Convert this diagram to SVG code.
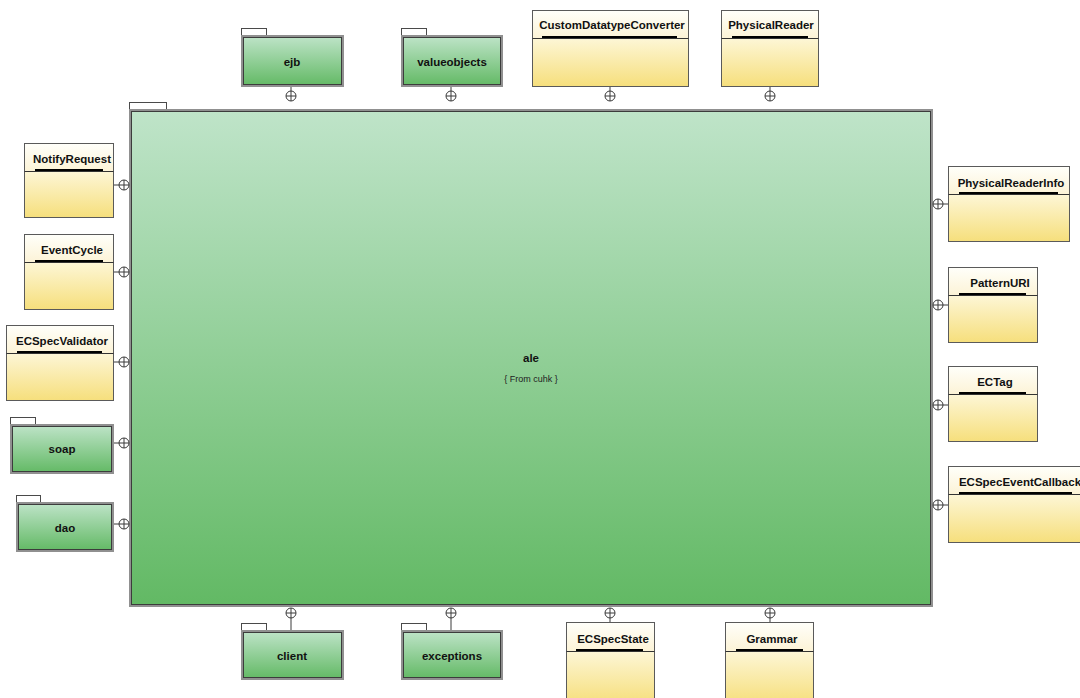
<svg xmlns="http://www.w3.org/2000/svg" width="1080" height="698" viewBox="0 0 1080 698">
  <defs>
    <linearGradient id="pkgFill" x1="0" y1="0" x2="0" y2="1">
      <stop offset="0" stop-color="#bfe4c9"/>
      <stop offset="1" stop-color="#62b964"/>
    </linearGradient>
    <linearGradient id="hdrFill" x1="0" y1="0" x2="0" y2="1">
      <stop offset="0" stop-color="#fffffa"/>
      <stop offset="1" stop-color="#fcf3d6"/>
    </linearGradient>
    <linearGradient id="bodyFill" x1="0" y1="0" x2="0" y2="1">
      <stop offset="0" stop-color="#fdf6d6"/>
      <stop offset="1" stop-color="#f6df7c"/>
    </linearGradient>
    <g id="port">
      <circle r="5" fill="#ffffff" stroke="#3a3a3a" stroke-width="1"/>
      <path d="M-5 0H5M0 -5V5" stroke="#3a3a3a" stroke-width="1"/>
    </g>
  </defs>
  <style>
    .tab { fill: #ffffff; stroke: #4a4a4a; stroke-width: 1; }
    .pkg { fill: url(#pkgFill); stroke: #909090; stroke-width: 2; }
    .pkgIn { fill: none; stroke: #3c3c3c; stroke-width: 1; }
    .hdr { fill: url(#hdrFill); }
    .cbody { fill: url(#bodyFill); }
    .frame { fill: none; stroke: #5a5a5a; stroke-width: 1; }
    .div { stroke: #333333; stroke-width: 1; }
    .ul { stroke: #000000; stroke-width: 2; }
    .lbl { font-family: "Liberation Sans", Arial, sans-serif; font-size: 11.5px; font-weight: bold; fill: #111111; text-anchor: middle; }
    .sub { font-family: "Liberation Sans", Arial, sans-serif; font-size: 9px; fill: #222222; text-anchor: middle; }
    .wire { stroke: #3a3a3a; stroke-width: 1; fill: none; }
  </style>

  <rect width="1080" height="698" fill="#ffffff"/>

  <!-- container package -->
  <g id="ale">
    <rect class="tab" x="129.5" y="102.5" width="37" height="7"/>
    <rect class="pkg" x="130" y="110" width="802" height="496"/>
    <rect class="pkgIn" x="131.5" y="111.5" width="799" height="493"/>
    <text class="lbl" x="531" y="362">ale</text>
    <text class="sub" x="531" y="382">{ From cuhk }</text>
  </g>

  <!-- connectors -->
  <g id="connectors">
    <path class="wire" d="M291 87V96M451 87V96M610 87V96M770 87V96"/>
    <path class="wire" d="M114 185H124M114 272H124M114 362H124M114 443H124M114 524H124"/>
    <path class="wire" d="M938 204H948M938 305H948M938 405H948M938 505H948"/>
    <path class="wire" d="M291 613V631M451 613V631M610 613V623M770 613V623"/>
    <use href="#port" x="291" y="96"/>
    <use href="#port" x="451" y="96"/>
    <use href="#port" x="610" y="96"/>
    <use href="#port" x="770" y="96"/>
    <use href="#port" x="124" y="185"/>
    <use href="#port" x="124" y="272"/>
    <use href="#port" x="124" y="362"/>
    <use href="#port" x="124" y="443"/>
    <use href="#port" x="124" y="524"/>
    <use href="#port" x="938" y="204"/>
    <use href="#port" x="938" y="305"/>
    <use href="#port" x="938" y="405"/>
    <use href="#port" x="938" y="505"/>
    <use href="#port" x="291" y="613"/>
    <use href="#port" x="451" y="613"/>
    <use href="#port" x="610" y="613"/>
    <use href="#port" x="770" y="613"/>
  </g>

  <!-- sub-packages -->
  <g id="ejb">
    <rect class="tab" x="241.5" y="28.5" width="25" height="7"/>
    <rect class="pkg" x="242" y="36" width="101" height="50"/>
    <rect class="pkgIn" x="243.5" y="37.5" width="98" height="47"/>
    <text class="lbl" x="292" y="66">ejb</text>
  </g>
  <g id="valueobjects">
    <rect class="tab" x="401.5" y="28.5" width="25" height="7"/>
    <rect class="pkg" x="402" y="36" width="100" height="50"/>
    <rect class="pkgIn" x="403.5" y="37.5" width="97" height="47"/>
    <text class="lbl" x="452" y="66">valueobjects</text>
  </g>
  <g id="soap">
    <rect class="tab" x="10.5" y="417.5" width="25" height="7"/>
    <rect class="pkg" x="11" y="425" width="102" height="48"/>
    <rect class="pkgIn" x="12.5" y="426.5" width="99" height="45"/>
    <text class="lbl" x="62" y="453">soap</text>
  </g>
  <g id="dao">
    <rect class="tab" x="16.5" y="495.5" width="24" height="7"/>
    <rect class="pkg" x="17" y="503" width="96" height="48"/>
    <rect class="pkgIn" x="18.5" y="504.5" width="93" height="45"/>
    <text class="lbl" x="65" y="532">dao</text>
  </g>
  <g id="client">
    <rect class="tab" x="241.5" y="623.5" width="25" height="7"/>
    <rect class="pkg" x="242" y="631" width="101" height="48"/>
    <rect class="pkgIn" x="243.5" y="632.5" width="98" height="45"/>
    <text class="lbl" x="292" y="660">client</text>
  </g>
  <g id="exceptions">
    <rect class="tab" x="401.5" y="623.5" width="25" height="7"/>
    <rect class="pkg" x="402" y="631" width="100" height="48"/>
    <rect class="pkgIn" x="403.5" y="632.5" width="97" height="45"/>
    <text class="lbl" x="452" y="660">exceptions</text>
  </g>

  <!-- classes -->
  <g id="CustomDatatypeConverter">
    <rect class="hdr" x="532.5" y="10.5" width="156" height="28"/>
    <rect class="cbody" x="532.5" y="38.5" width="156" height="48"/>
    <rect class="frame" x="532.5" y="10.5" width="156" height="76"/>
    <line class="div" x1="532.5" y1="38.5" x2="688.5" y2="38.5"/>
    <line class="ul" x1="542" y1="37" x2="677" y2="37"/>
    <text class="lbl" x="612" y="29">CustomDatatypeConverter</text>
  </g>
  <g id="PhysicalReader">
    <rect class="hdr" x="721.5" y="10.5" width="97" height="28"/>
    <rect class="cbody" x="721.5" y="38.5" width="97" height="48"/>
    <rect class="frame" x="721.5" y="10.5" width="97" height="76"/>
    <line class="div" x1="721.5" y1="38.5" x2="818.5" y2="38.5"/>
    <line class="ul" x1="732" y1="37" x2="808" y2="37"/>
    <text class="lbl" x="771" y="29">PhysicalReader</text>
  </g>
  <g id="NotifyRequest">
    <rect class="hdr" x="24.5" y="143.5" width="89" height="28"/>
    <rect class="cbody" x="24.5" y="171.5" width="89" height="46"/>
    <rect class="frame" x="24.5" y="143.5" width="89" height="74"/>
    <line class="div" x1="24.5" y1="171.5" x2="113.5" y2="171.5"/>
    <line class="ul" x1="35" y1="170" x2="103" y2="170"/>
    <text class="lbl" x="72" y="163">NotifyRequest</text>
  </g>
  <g id="EventCycle">
    <rect class="hdr" x="24.5" y="234.5" width="89" height="28"/>
    <rect class="cbody" x="24.5" y="262.5" width="89" height="47"/>
    <rect class="frame" x="24.5" y="234.5" width="89" height="75"/>
    <line class="div" x1="24.5" y1="262.5" x2="113.5" y2="262.5"/>
    <line class="ul" x1="35" y1="261" x2="103" y2="261"/>
    <text class="lbl" x="72" y="254">EventCycle</text>
  </g>
  <g id="ECSpecValidator">
    <rect class="hdr" x="6.5" y="325.5" width="107" height="28"/>
    <rect class="cbody" x="6.5" y="353.5" width="107" height="47"/>
    <rect class="frame" x="6.5" y="325.5" width="107" height="75"/>
    <line class="div" x1="6.5" y1="353.5" x2="113.5" y2="353.5"/>
    <line class="ul" x1="17" y1="352" x2="102" y2="352"/>
    <text class="lbl" x="62" y="345">ECSpecValidator</text>
  </g>
  <g id="PhysicalReaderInfo">
    <rect class="hdr" x="948.5" y="166.5" width="121" height="28"/>
    <rect class="cbody" x="948.5" y="194.5" width="121" height="47"/>
    <rect class="frame" x="948.5" y="166.5" width="121" height="75"/>
    <line class="div" x1="948.5" y1="194.5" x2="1069.5" y2="194.5"/>
    <line class="ul" x1="959" y1="193" x2="1058" y2="193"/>
    <text class="lbl" x="1011" y="187">PhysicalReaderInfo</text>
  </g>
  <g id="PatternURI">
    <rect class="hdr" x="948.5" y="267.5" width="89" height="28"/>
    <rect class="cbody" x="948.5" y="295.5" width="89" height="47"/>
    <rect class="frame" x="948.5" y="267.5" width="89" height="75"/>
    <line class="div" x1="948.5" y1="295.5" x2="1037.5" y2="295.5"/>
    <line class="ul" x1="959" y1="294" x2="1026" y2="294"/>
    <text class="lbl" x="1000" y="287">PatternURI</text>
  </g>
  <g id="ECTag">
    <rect class="hdr" x="948.5" y="366.5" width="89" height="28"/>
    <rect class="cbody" x="948.5" y="394.5" width="89" height="47"/>
    <rect class="frame" x="948.5" y="366.5" width="89" height="75"/>
    <line class="div" x1="948.5" y1="394.5" x2="1037.5" y2="394.5"/>
    <line class="ul" x1="959" y1="393" x2="1026" y2="393"/>
    <text class="lbl" x="995" y="386">ECTag</text>
  </g>
  <g id="ECSpecEventCallback">
    <rect class="hdr" x="948.5" y="466.5" width="140" height="28"/>
    <rect class="cbody" x="948.5" y="494.5" width="140" height="48"/>
    <rect class="frame" x="948.5" y="466.5" width="140" height="76"/>
    <line class="div" x1="948.5" y1="494.5" x2="1088.5" y2="494.5"/>
    <line class="ul" x1="959" y1="493" x2="1072" y2="493"/>
    <text class="lbl" x="1020" y="486">ECSpecEventCallback</text>
  </g>
  <g id="ECSpecState">
    <rect class="hdr" x="566.5" y="622.5" width="88" height="29"/>
    <rect class="cbody" x="566.5" y="651.5" width="88" height="52"/>
    <rect class="frame" x="566.5" y="622.5" width="88" height="81"/>
    <line class="div" x1="566.5" y1="651.5" x2="654.5" y2="651.5"/>
    <line class="ul" x1="576" y1="650" x2="643" y2="650"/>
    <text class="lbl" x="613" y="643">ECSpecState</text>
  </g>
  <g id="Grammar">
    <rect class="hdr" x="725.5" y="622.5" width="88" height="29"/>
    <rect class="cbody" x="725.5" y="651.5" width="88" height="52"/>
    <rect class="frame" x="725.5" y="622.5" width="88" height="81"/>
    <line class="div" x1="725.5" y1="651.5" x2="813.5" y2="651.5"/>
    <line class="ul" x1="736" y1="650" x2="803" y2="650"/>
    <text class="lbl" x="772" y="643">Grammar</text>
  </g>
</svg>
